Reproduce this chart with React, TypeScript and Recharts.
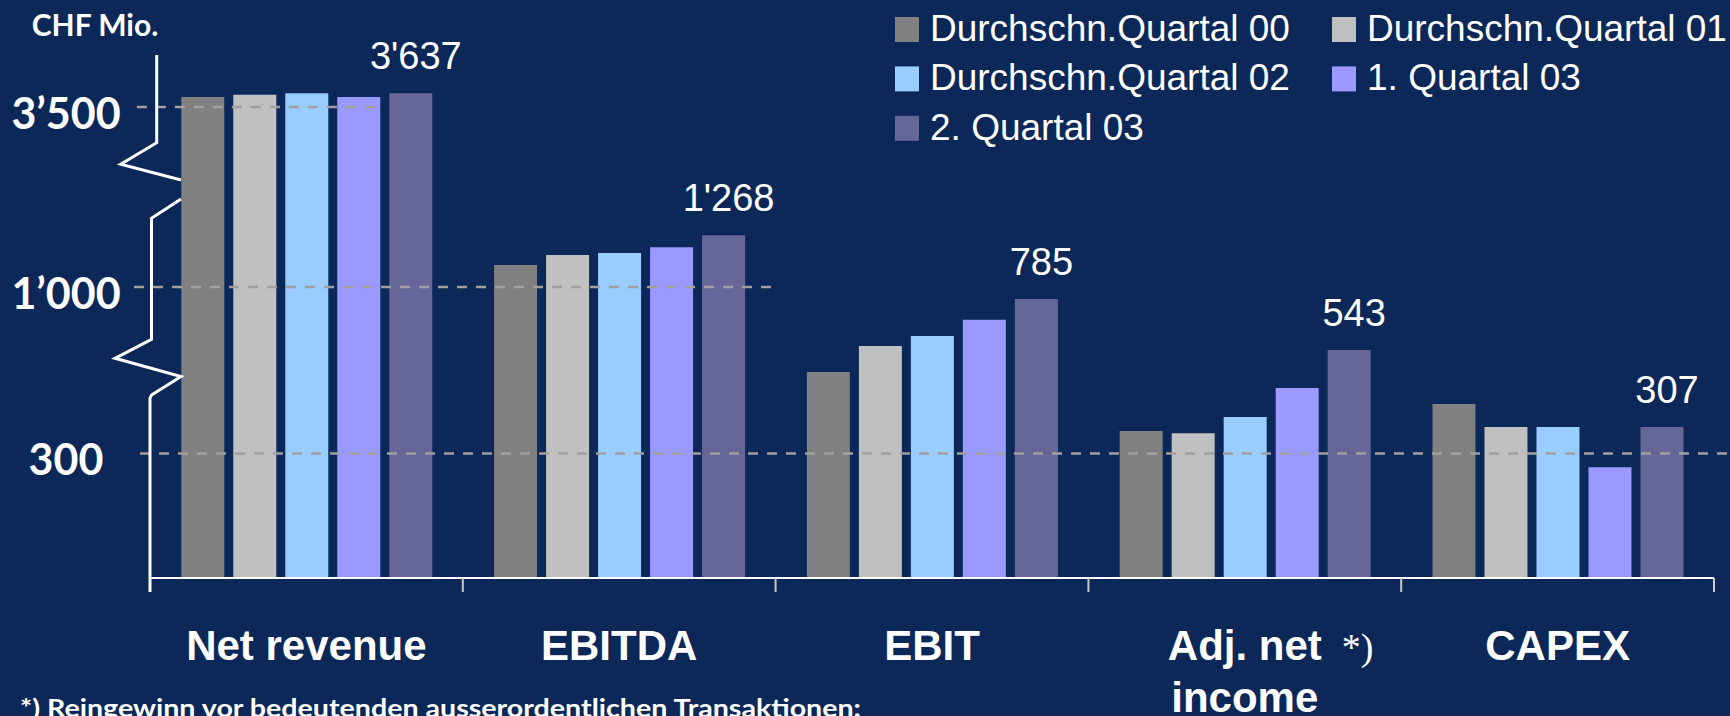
import React from 'react';
import { BarChart, Bar, XAxis, YAxis, Legend, LabelList } from 'recharts';

// ---- data ----
const categories = ['Net revenue', 'EBITDA', 'EBIT', 'Adj. net income', 'CAPEX'];
const categoryLines = [['Net revenue'], ['EBITDA'], ['EBIT'], ['Adj. net', 'income'], ['CAPEX']];
const categoryMarks = ['', '', '', '*)', ''];
const seriesNames = ['Durchschn.Quartal 00', 'Durchschn.Quartal 01', 'Durchschn.Quartal 02', '1. Quartal 03', '2. Quartal 03'];
// bar heights read on the chart's (broken, schematic) display axis
const q00 = [1159, 754, 496, 354, 419];
const q01 = [1164, 778, 559, 349, 364];
const q02 = [1168, 783, 583, 388, 364];
const q103 = [1159, 797, 622, 458, 267];
const q203 = [1168, 826, 672, 549, 364];
const q203Labels = ["3'637", "1'268", '785', '543', '307'];
const yTickValues = [300, 701, 1135];
const yTickLabels = ['300', '1’000', '3’500'];
// dashed guide lines: level and horizontal extent in category units (0..5)
const guideLevels = [300, 701, 1135];
const guideFrom = [-0.032, -0.051, -0.042];
const guideTo = [5.051, 1.992, 0.735];

const seriesKeys = ['q00', 'q01', 'q02', 'q103', 'q203'];
const seriesValues = [q00, q01, q02, q103, q203];
const seriesColors = ['#808080', '#c0c0c0', '#99ccff', '#9999ff', '#666699'];

const data = categories.map((name, i) => {
  const row: any = { name, label: q203Labels[i] };
  seriesKeys.forEach((k, s) => { row[k] = seriesValues[s][i]; });
  return row;
});

// ---- layout ----
const W = 1730;
const H = 716;
const LEFT = 150;
const RIGHT = 16;
const TOP = 55;
const XAXIS_H = 138;
const Y_MAX = 1260;
const PLOT_W = W - LEFT - RIGHT;
const PLOT_H = H - TOP - XAXIS_H;
const HALF_BAND = PLOT_W / categories.length / 2;
const yOf = (v: number) => TOP + PLOT_H * (1 - v / Y_MAX);
const xOf = (u: number) => LEFT + (u * PLOT_W) / categories.length;
const BG = '#0b2858';
const SANS = '"Liberation Sans", Arial, sans-serif';
const CAL = 'Lato, "Open Sans", sans-serif';

const XTick = (props: any) => {
  const { x, y, payload } = props;
  const idx = categories.indexOf(payload.value);
  const lines = categoryLines[idx] || [payload.value];
  const mark = categoryMarks[idx];
  return (
    <g>
      <line x1={x - HALF_BAND} x2={x - HALF_BAND} y1={y} y2={y + 14} stroke="#c8c8c8" strokeWidth={2} />
      {idx === categories.length - 1 && (
        <line x1={x + HALF_BAND} x2={x + HALF_BAND} y1={y} y2={y + 14} stroke="#c8c8c8" strokeWidth={2} />
      )}
      {lines.map((l: string, j: number) => (
        <text key={j} x={x} y={y + 82 + j * 52} textAnchor="middle" fill="#ffffff"
          fontFamily={SANS} fontWeight={700} fontSize={42}>{l}</text>
      ))}
      {mark && (
        <text x={x + 97} y={y + 82} textAnchor="start" fill="#ffffff"
          fontFamily='"Liberation Serif", "Times New Roman", serif' fontSize={38}>{mark}</text>
      )}
    </g>
  );
};

const YTick = (props: any) => {
  const { y, payload } = props;
  const i = yTickValues.indexOf(payload.value);
  return (
    <text x={66} y={y + 22} textAnchor="middle" fill="#ffffff" fontFamily={CAL}
      fontWeight={700} fontSize={43}>{yTickLabels[i]}</text>
  );
};

const LegendContent = (props: any) => {
  const payload = [...(props.payload || [])].sort(
    (a: any, b: any) => seriesNames.indexOf(a.value) - seriesNames.indexOf(b.value)
  );
  const colX = [895, 1332];
  return (
    <svg width={W} height={150} style={{ display: 'block' }}>
      {payload.map((p: any, i: number) => {
        const col = i % 2;
        const row = Math.floor(i / 2);
        const sx = colX[col];
        const top = 17 + row * 49.4;
        return (
          <g key={i}>
            <rect x={sx} y={top} width={24} height={25} fill={p.color} />
            <text x={sx + 35} y={top + 24} fill="#ffffff" fontFamily={SANS} fontSize={37}>{p.value}</text>
          </g>
        );
      })}
    </svg>
  );
};

const ValueLabel = (props: any) => {
  const { x, y, width, value } = props;
  return (
    <text x={x + width / 2 + 5} y={y - 24} textAnchor="middle" fill="#ffffff"
      fontFamily={SANS} fontSize={38}>{value}</text>
  );
};

export default function App() {
  return (
    <div style={{ position: 'fixed', left: 0, top: 0, width: W, height: H, background: BG, overflow: 'hidden' }}>
      <BarChart width={W} height={H} data={data}
        margin={{ top: TOP, right: RIGHT, bottom: 0, left: 0 }}
        barCategoryGap="10%" barGap={9}>
        <XAxis dataKey="name" height={XAXIS_H} interval={0}
          axisLine={{ stroke: '#ffffff', strokeWidth: 2 }} tickLine={false}
          tickSize={0} tickMargin={0} tick={<XTick />} />
        <YAxis width={LEFT} domain={[0, Y_MAX]} ticks={yTickValues} interval={0}
          allowDataOverflow axisLine={false} tickLine={false} tick={<YTick />} />
        <Legend layout="horizontal" verticalAlign="middle" align="center"
          wrapperStyle={{ top: 0, left: 0, width: W, height: 150 }}
          content={<LegendContent />} />
        {seriesKeys.map((k, s) => (
          <Bar key={k} dataKey={k} name={seriesNames[s]} fill={seriesColors[s]}
            isAnimationActive={false}>
            {s === seriesKeys.length - 1 && (
              <LabelList dataKey="label" content={<ValueLabel />} />
            )}
          </Bar>
        ))}
      </BarChart>
      <svg width={W} height={H} style={{ position: 'absolute', left: 0, top: 0, pointerEvents: 'none' }}>
        {guideLevels.map((lv, i) => (
          <line key={i} x1={xOf(guideFrom[i])} x2={xOf(guideTo[i])} y1={yOf(lv)} y2={yOf(lv)}
            stroke="#a0a0a0" strokeWidth={2.5} strokeDasharray="10 9" />
        ))}
        <text x={95} y={36} textAnchor="middle" fill="#ffffff" fontFamily={CAL} fontWeight={700} fontSize={30}>CHF Mio.</text>
        <g fill="none" stroke="#ffffff" strokeWidth={3} strokeLinejoin="miter">
          <path d="M156.7,55 L156.7,142.7 L120.7,164.3 L181,180" />
          <path d="M181,199 L151.5,218.3 L151.5,339.3 L115,358.3 L181,376.5 L151.5,395 L150,398 L150,592" />
        </g>
        <text x={20} y={717} fill="#ffffff" fontFamily={CAL} fontWeight={700} fontSize={24}
          textLength={841} lengthAdjust="spacingAndGlyphs">*) Reingewinn vor bedeutenden ausserordentlichen Transaktionen:</text>
      </svg>
    </div>
  );
}
